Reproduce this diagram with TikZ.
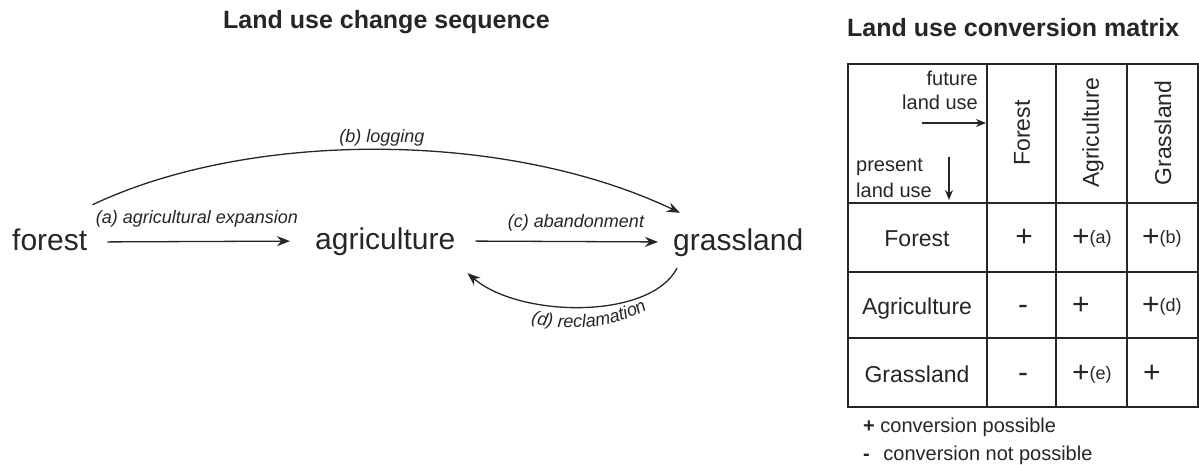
\documentclass[tikz,border=0pt]{standalone}
\usepackage{fontspec}
\setmainfont{Liberation Sans}
\usetikzlibrary{arrows.meta,decorations.text,calc}
\definecolor{ink}{HTML}{262626}
\newcommand{\tag}[1]{\raisebox{3pt}{\fontsize{18}{22}\selectfont(#1)}}
\begin{document}
\begin{tikzpicture}[x=1pt,y=-1pt,
  every node/.style={inner sep=0pt, text=ink},
  big/.style={font=\fontsize{30}{36}\selectfont, text height=22pt, text depth=6pt},
  lab/.style={font=\itshape\fontsize{18}{22}\selectfont},
  ttl/.style={font=\bfseries\fontsize{25}{30}\selectfont},
  cell/.style={font=\fontsize{23}{28}\selectfont},
  hdr/.style={font=\fontsize{20}{24}\selectfont},
  sym/.style={font=\fontsize{30}{36}\selectfont},
  arr/.style={draw=ink, line width=1.3pt, -{Stealth[length=13pt,width=10pt]}},
  arrsm/.style={draw=ink, line width=1.2pt, -{Stealth[length=10pt,width=8pt]}},
  grid/.style={draw=ink, line width=1.4pt},
]
\useasboundingbox (0,0) rectangle (1199,465);

% titles
\node[ttl, anchor=base west] (t1) at (223,29) {Land use change sequence};
\node[ttl, anchor=base west] (t2) at (847,37) {Land use conversion matrix};

% land use nodes
\node[big, anchor=base west] (forest) at (12,250) {forest};
\node[big, anchor=base west] (agri) at (315,249) {agriculture};
\node[big, anchor=base west] (grass) at (673,250) {grassland};

% connectors
\draw[arr, shorten <=20pt, shorten >=25pt] (forest.east) -- (agri.west);
\draw[arr, shorten <=20pt, shorten >=15pt] (agri.east) -- (grass.west);
\draw[arr] ($(forest.north east)+(5,-23)$) .. controls (250,130) and (506,130) .. ($(grass.north west)+(7,-15)$);
\draw[arr] ($(grass.south west)+(4,12)$) .. controls (650,320) and (520,318) .. ($(agri.south east)+(12,18)$);

% connector labels
\node[lab, anchor=base] (la) at (197,223) {(a) agricultural expansion};
\node[lab, anchor=base] (lb) at (382,143) {(b) logging};
\node[lab, anchor=base] (lc) at (576,228) {(c) abandonment};
\path[decorate, decoration={text along path, text color=ink,
  text={|\itshape\fontsize{18}{22}\selectfont|(d) reclamation}, text align=center}]
  (512,315) .. controls (545,333) and (618,336) .. (664,298);

% table grid
\draw[grid] (848,64) rectangle (1198,407);
\foreach \xx in {987,1056,1127} \draw[grid] (\xx,64) -- (\xx,407);
\foreach \yy in {203,272,338} \draw[grid] (848,\yy) -- (1198,\yy);

% header corner
\node[hdr, anchor=base east] (fut1) at (978,86) {future};
\node[hdr, anchor=base east] (fut2) at (978,110) {land use};
\node[hdr, anchor=base west] (pre1) at (856,172) {present};
\node[hdr, anchor=base west] (pre2) at (856,197) {land use};
\coordinate (ra1) at (922,123);
\coordinate (ra2) at (986,123);
\coordinate (da1) at (949,157);
\coordinate (da2) at (949,200);
\draw[arrsm] (ra1) -- (ra2);
\draw[arrsm] (da1) -- (da2);

% column headers
\node[cell, rotate=90] (hF) at (1022,133) {Forest};
\node[cell, rotate=90] (hA) at (1093,133) {Agriculture};
\node[cell, rotate=90] (hG) at (1163,133) {Grassland};

% row headers
\node[cell, anchor=base] (rF) at (917,247) {Forest};
\node[cell, anchor=base] (rA) at (917,314) {Agriculture};
\node[cell, anchor=base] (rG) at (917,382) {Grassland};

% cells
\node[sym, anchor=base] (c11) at (1024,247) {+};
\node[sym, anchor=base west] (c12) at (1072,247) {+\tag{a}};
\node[sym, anchor=base west] (c13) at (1142,247) {+\tag{b}};
\node[sym, anchor=base] (c21) at (1023,314) {-};
\node[sym, anchor=base west] (c22) at (1072,314) {+};
\node[sym, anchor=base west] (c23) at (1142,314) {+\tag{d}};
\node[sym, anchor=base] (c31) at (1023,382) {-};
\node[sym, anchor=base west] (c32) at (1072,382) {+\tag{e}};
\node[sym, anchor=base west] (c33) at (1143,382) {+};

% legend
\node[hdr, anchor=base west] (lg1) at (863,432) {\textbf{+} conversion possible};
\node[hdr, anchor=base west] (lg2) at (863,460) {\textbf{-}\hspace{8pt} conversion not possible};
\end{tikzpicture}
\end{document}
